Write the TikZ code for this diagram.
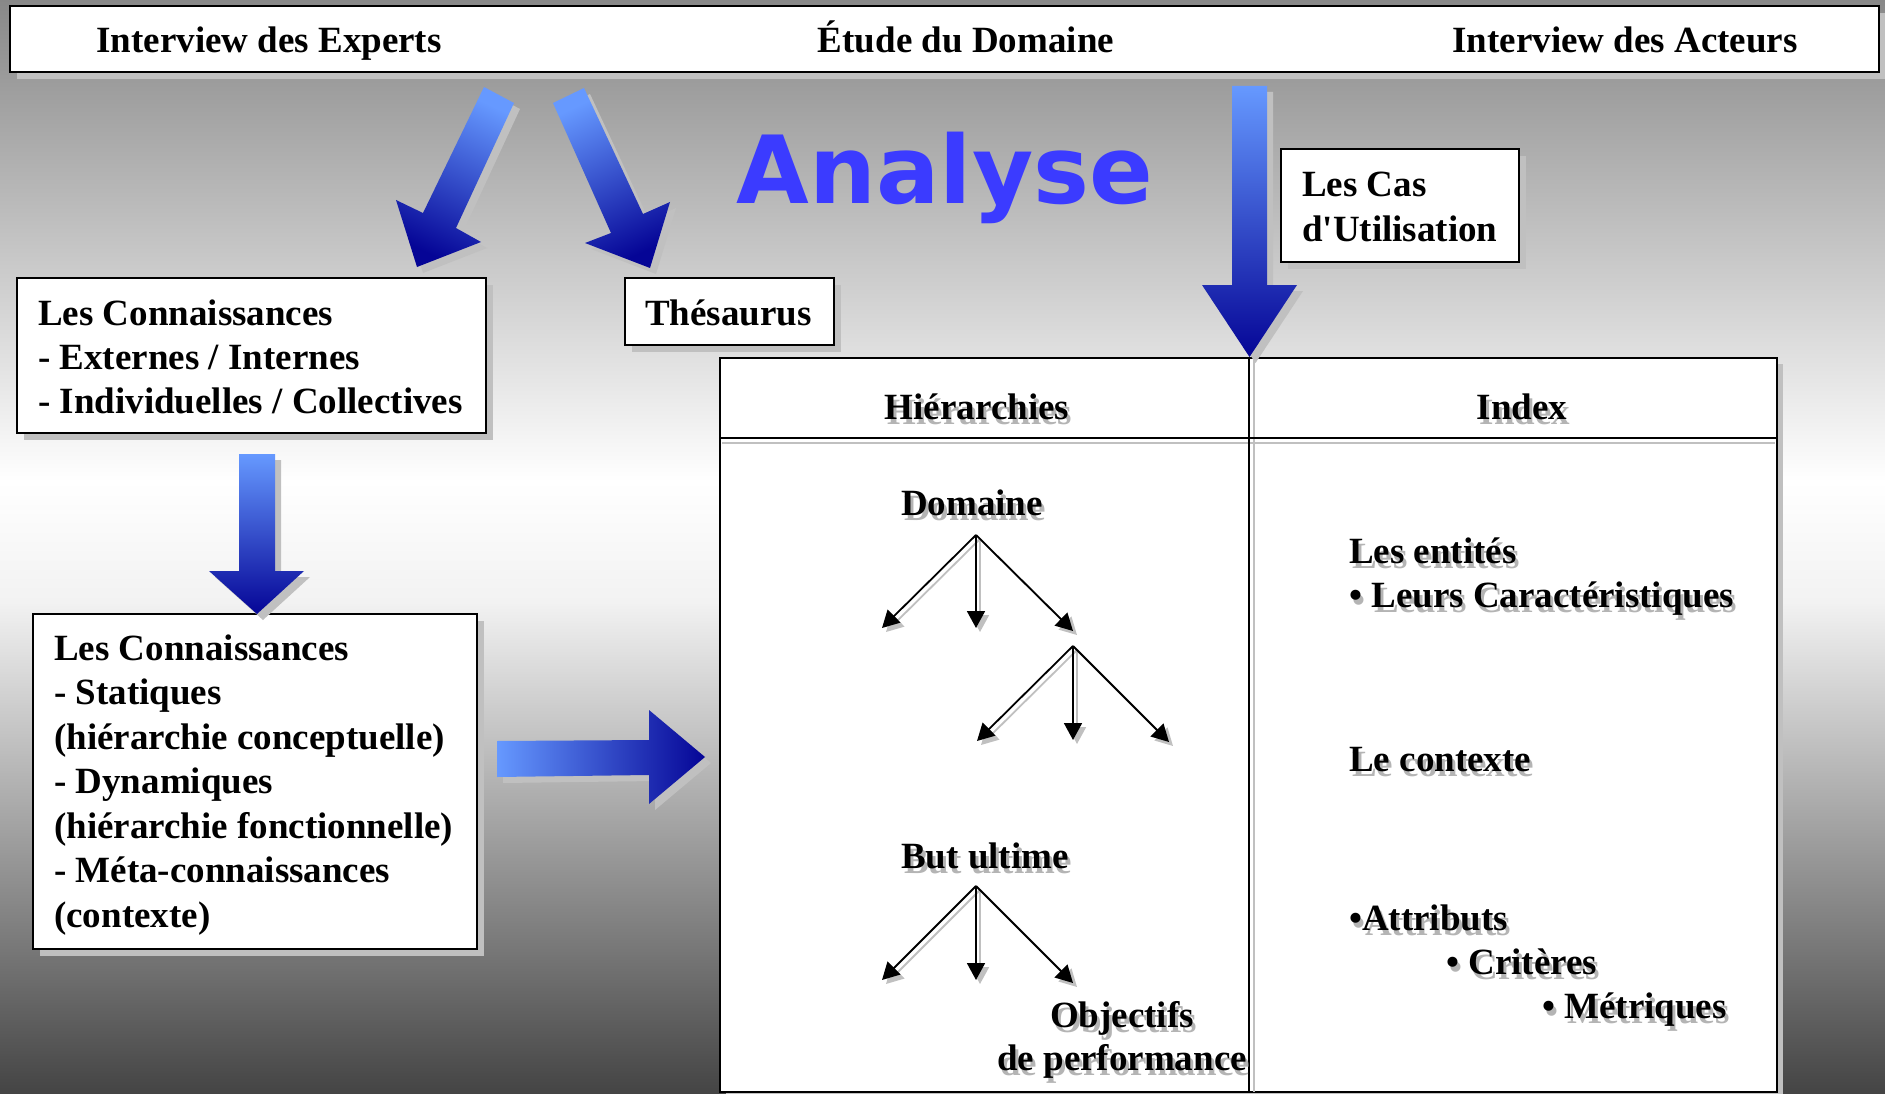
\documentclass[tikz,border=0pt]{standalone}
\usepackage{fontspec}
\setmainfont{Liberation Serif}
\newfontfamily\anfont{DejaVu Sans}
\usetikzlibrary{arrows.meta,shadows}
\definecolor{arrlight}{RGB}{102,153,255}
\definecolor{arrdark}{RGB}{5,5,150}
\definecolor{shad}{RGB}{192,192,192}
\definecolor{txtshad}{RGB}{180,180,180}
\definecolor{anblue}{RGB}{59,59,255}
\definecolor{bgbot}{RGB}{68,68,68}
\definecolor{bgmid}{RGB}{242,242,242}
\definecolor{bgtop}{RGB}{136,136,136}
\pgfdeclareverticalshading{bgshade}{100bp}{color(0bp)=(bgbot); color(25bp)=(bgbot); color(47.5bp)=(bgmid); color(53bp)=(white); color(75bp)=(bgtop); color(100bp)=(bgtop)}
\newcommand\shtxt[4]{%
  \node[stxt, anchor=#2, xshift=3pt, yshift=-5pt] (#1s) at #3 {#4};
  \node[txt, anchor=#2] (#1) at #3 {#4};}
\begin{document}
\begin{tikzpicture}[x=1pt,y=-1pt,
  box/.style={draw=black, line width=2.5pt, fill=white, inner sep=0pt, outer sep=0pt,
    general shadow={fill=shad, shadow xshift=7pt, shadow yshift=-7pt}},
  tbox/.style={draw=black, line width=2pt, fill=white, inner sep=0pt, outer sep=0pt,
    general shadow={fill=shad, shadow xshift=6pt, shadow yshift=-6pt}},
  txt/.style={font=\fontsize{37}{44.5}\selectfont\bfseries, inner sep=0pt, text=black},
  stxt/.style={txt, text=txtshad},
  tarr/.style={-{Triangle[length=17pt,width=18pt]}, line width=1.8pt, draw=black},
  tsh/.style={tarr, draw=shad, transform canvas={xshift=4pt, yshift=-4pt}},
  blk/.style={top color=arrlight, bottom color=arrdark},
  blkh/.style={left color=arrlight, right color=arrdark},
  bsh/.style={fill=shad, shift={(6,6)}}]
\useasboundingbox (0,0) rectangle (1885,1094);
\shade[shading=bgshade] (0,0) rectangle (1885,1094);

% header
\node[box, minimum width=1869pt, minimum height=66pt, anchor=north west] (header) at (10,6) {};
\node[txt, anchor=base] (hE) at (269,53) {Interview des Experts};
\node[txt, anchor=base] (hD) at (966,53) {Étude du Domaine};
\node[txt, anchor=base] (hA) at (1625,53) {Interview des Acteurs};

% title
\node[font=\anfont\bfseries\fontsize{94}{100}\selectfont, text=anblue, anchor=base, inner sep=0pt] (analyse) at (945,204) {Analyse};

% boxes
\node[box, minimum width=469pt, minimum height=155pt, anchor=north west] (conn1) at (17,278) {};
\node[txt, anchor=base west] (c1a) at (38,325) {Les Connaissances};
\node[txt, anchor=base west] (c1b) at (38,369) {- Externes / Internes};
\node[txt, anchor=base west] (c1c) at (38,413) {- Individuelles / Collectives};

\node[box, minimum width=209pt, minimum height=67pt, anchor=north west] (thes) at (625,278) {};
\node[txt, anchor=base west] (thest) at (645,325) {Thésaurus};

\node[box, minimum width=238pt, minimum height=113pt, anchor=north west] (cas) at (1281,149) {};
\node[txt, anchor=base west] (casa) at (1302,197) {Les Cas};
\node[txt, anchor=base west] (casb) at (1302,242) {d\textquotesingle Utilisation};

\node[box, minimum width=444pt, minimum height=335pt, anchor=north west] (conn2) at (33,614) {};
\node[txt, anchor=base west] (c2a) at (54,660) {Les Connaissances};
\node[txt, anchor=base west] (c2b) at (54,704.5) {- Statiques};
\node[txt, anchor=base west] (c2c) at (54,749) {(hiérarchie conceptuelle)};
\node[txt, anchor=base west] (c2d) at (54,793.5) {- Dynamiques};
\node[txt, anchor=base west] (c2e) at (54,838) {(hiérarchie fonctionnelle)};
\node[txt, anchor=base west] (c2f) at (54,882.5) {- Méta-connaissances};
\node[txt, anchor=base west] (c2g) at (54,927) {(contexte)};

% table
\node[tbox, minimum width=1057pt, minimum height=734pt, anchor=north west] (tab) at (720,358) {};
\coordinate (hdl) at (720,438);
\coordinate (hdr) at (1777,438);
\coordinate (hdls) at (722,443);
\coordinate (hdrs) at (1775,443);
\coordinate (vdt) at (1254,360);
\coordinate (vdb) at (1254,1092);
\draw[shad, line width=2pt] (hdls) -- (hdrs);
\draw[shad, line width=2pt] (vdt) -- (vdb);
\draw[black, line width=2pt] (hdl) -- (hdr);
\draw[black, line width=2pt] (tab.north) -- (tab.south);

\shtxt{hier}{base}{(977,419)}{Hiérarchies}
\shtxt{index}{base}{(1522,419)}{Index}
\shtxt{dom}{base}{(972,515)}{Domaine}
\shtxt{but}{base}{(985,868)}{But ultime}
\shtxt{obj}{base}{(1122,1027)}{Objectifs}
\shtxt{perf}{base}{(1122,1070)}{de performance}
\shtxt{ent}{base west}{(1349,563)}{Les entités}
\shtxt{car}{base west}{(1349,607)}{• Leurs Caractéristiques}
\shtxt{ctx}{base west}{(1349,771)}{Le contexte}
\shtxt{att}{base west}{(1349,930)}{•Attributs}
\shtxt{crit}{base west}{(1446,974)}{• Critères}
\shtxt{met}{base west}{(1542,1018)}{• Métriques}

% trees
\coordinate (r1) at (976,535);
\coordinate (r1a) at (882,628);
\coordinate (r1b) at (976,628);
\coordinate (r1c) at (1073,631);
\coordinate (r2) at (1073,646);
\coordinate (r2a) at (977,741);
\coordinate (r2b) at (1073,740);
\coordinate (r2c) at (1169,742);
\coordinate (r3) at (976,886);
\coordinate (r3a) at (882,980);
\coordinate (r3b) at (976,980);
\coordinate (r3c) at (1073,983);
\foreach \r/\t in {r1/r1a,r1/r1b,r1/r1c,r2/r2a,r2/r2b,r2/r2c,r3/r3a,r3/r3b,r3/r3c}{
  \draw[tsh] (\r) -- (\t);
}
\foreach \r/\t in {r1/r1a,r1/r1b,r1/r1c,r2/r2a,r2/r2b,r2/r2c,r3/r3a,r3/r3b,r3/r3c}{
  \draw[tarr] (\r) -- (\t);
}

% block arrows
\fill[bsh] (484,87) -- (514,103) -- (456,228) -- (481,242) -- (417,267) -- (396,200) -- (423,213) -- cycle;
\shade[blk, shading angle=-25] (484,87) -- (514,103) -- (456,228) -- (481,242) -- (417,267) -- (396,200) -- (423,213) -- cycle;

\fill[bsh] (553,103) -- (584,88) -- (643,214) -- (670,202) -- (650,268) -- (585,243) -- (611,233) -- cycle;
\shade[blk, shading angle=25] (553,103) -- (584,88) -- (643,214) -- (670,202) -- (650,268) -- (585,243) -- (611,233) -- cycle;

\fill[bsh] (1232,86) -- (1267,86) -- (1267,285) -- (1297,285) -- (1249.5,357) -- (1202,285) -- (1232,285) -- cycle;
\shade[blk] (1232,86) -- (1267,86) -- (1267,285) -- (1297,285) -- (1249.5,357) -- (1202,285) -- (1232,285) -- cycle;

\fill[bsh] (239,454) -- (275,454) -- (275,571) -- (304,571) -- (257,614) -- (209,571) -- (239,571) -- cycle;
\shade[blk] (239,454) -- (275,454) -- (275,571) -- (304,571) -- (257,614) -- (209,571) -- (239,571) -- cycle;

\fill[bsh] (497,741) -- (649,740) -- (649,710) -- (705,757) -- (649,804) -- (649,775) -- (497,777) -- cycle;
\shade[blkh] (497,741) -- (649,740) -- (649,710) -- (705,757) -- (649,804) -- (649,775) -- (497,777) -- cycle;
\end{tikzpicture}
\end{document}
